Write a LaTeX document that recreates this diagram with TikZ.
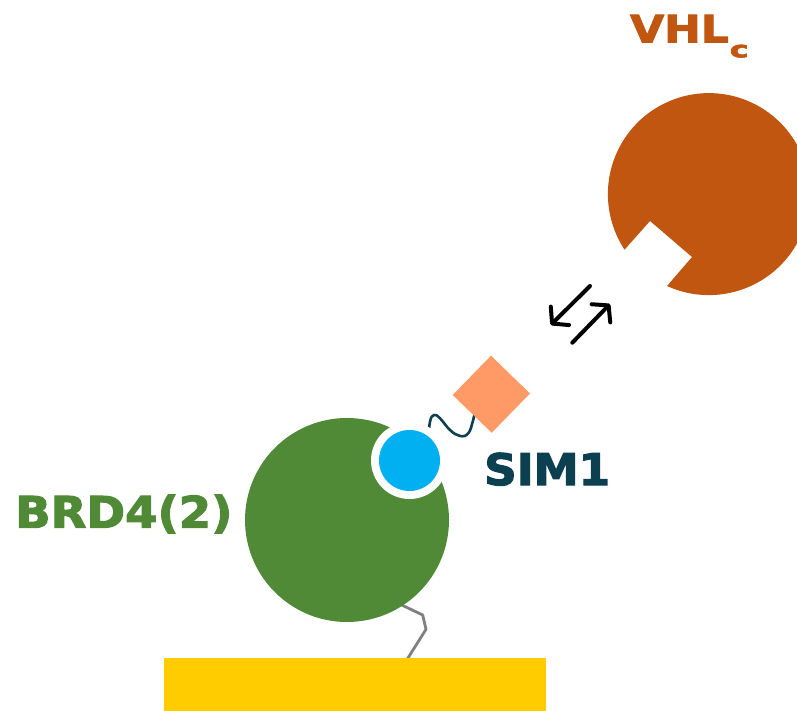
\documentclass[tikz,border=0pt]{standalone}
\usepackage{fontspec}
\setmainfont{DejaVu Sans}
\newfontfamily\lblfont[FakeBold=2.5]{DejaVu Sans Bold}
\usetikzlibrary{arrows.meta}
\definecolor{vhlorange}{RGB}{192,86,16}
\definecolor{brdgreen}{RGB}{80,138,54}
\definecolor{simteal}{RGB}{12,64,80}
\definecolor{salmon}{RGB}{255,153,102}
\definecolor{skyblue}{RGB}{0,176,240}
\definecolor{gold}{RGB}{255,204,0}
\definecolor{linkgray}{RGB}{128,128,128}
\tikzset{
  lbl/.style={anchor=base west, inner sep=0pt},
  eqarrow/.style={line width=4pt, line cap=round, -{Straight Barb[length=11pt,width=26pt,line cap=round,line join=round]}},
}
\begin{document}
\begin{tikzpicture}[x=1pt,y=1pt]
\useasboundingbox (0,0) rectangle (797,-711);
% gray linker from BRD4 to surface
\coordinate (g1) at (401.7,-605);
\coordinate (g2) at (422.7,-615);
\coordinate (g3) at (426,-629.3);
\coordinate (g4) at (406.7,-660);
\draw[linkgray, line width=2.8pt, line join=round] (g1) -- (g2) -- (g3) -- (g4);
% BRD4(2) domain
\coordinate (brd) at (347,-520);
\fill[brdgreen] (brd) circle[radius=102];
% surface
\fill[gold] (164,-658) rectangle (546,-711);
% teal linker
\draw[simteal, line width=2.6pt] plot[smooth, tension=0.7] coordinates
  {(428.3,-440) (430,-421.7) (434,-415) (440,-418.3) (450,-430) (460,-436) (468.3,-433.3) (472.7,-421.7) (474.6,-413)};
% blue ligand with white ring
\coordinate (blu) at (409.5,-460.5);
\fill[white] (blu) circle[radius=38.5];
\fill[skyblue] (blu) circle[radius=30.5];
% diamond
\fill[salmon] (491,-355.7) -- (530,-393.5) -- (491.7,-432.7) -- (452.7,-395) -- cycle;
% VHL with notch
\coordinate (vhl) at (709,-194);
\fill[vhlorange] (667,-286) arc[start angle=245.5, end angle=573.4, radius=101] -- (650,-221) -- (692,-257) -- cycle;
% equilibrium arrows
\coordinate (a1s) at (590,-286);
\coordinate (a1e) at (550.7,-325);
\coordinate (a2s) at (572.3,-342.7);
\coordinate (a2e) at (610,-304);
\draw[eqarrow] (a1s) -- (a1e);
\draw[eqarrow] (a2s) -- (a2e);
% labels
\node[lbl, text=vhlorange, font=\lblfont\fontsize{37.5}{40}\selectfont] (vhllbl) at (630,-42.3)
  {\scalebox{1.17}[1]{VHL}\hspace{1pt}{\fontsize{22.5}{23}\selectfont\raisebox{-15pt}{\scalebox{1.4}[1]{c}}}};
\node[lbl, text=simteal, font=\lblfont\fontsize{43.5}{46}\selectfont] (simlbl) at (484,-485)
  {\scalebox{1.04}[1]{SIM1}};
\node[lbl, text=brdgreen, font=\lblfont\fontsize{43.5}{46}\selectfont] (brdlbl) at (15,-527.7)
  {\scalebox{1.07}[1]{BRD4(2)}};
\end{tikzpicture}
\end{document}
